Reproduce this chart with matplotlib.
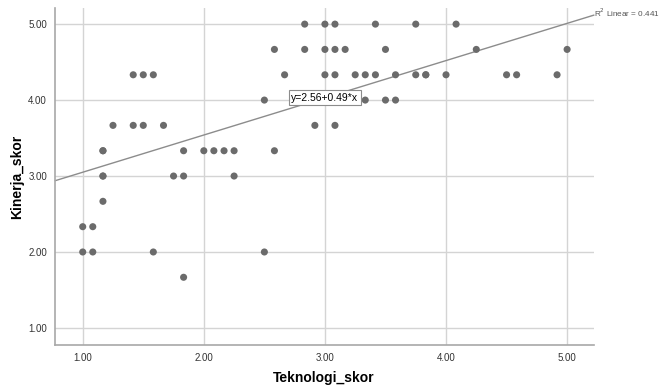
import matplotlib
matplotlib.use("Agg")
import numpy as np
import matplotlib.pyplot as plt

plt.rcParams["font.family"] = ["Liberation Sans", "DejaVu Sans"]

# Teknologi_skor vs Kinerja_skor, one list per Kinerja level
teknologi = [
    2.833, 3.0, 3.083, 3.417, 3.75, 4.083,
    2.583, 2.833, 3.0, 3.083, 3.167, 3.5, 4.25, 5.0,
    1.417, 1.5, 1.583, 2.667, 3.0, 3.083, 3.25, 3.333, 3.417, 3.583, 3.75, 3.833, 3.833, 4.0, 4.5, 4.583, 4.917,
    2.5, 3.333, 3.5, 3.583,
    1.25, 1.417, 1.5, 1.667, 2.917, 3.083,
    1.167, 1.167, 1.833, 2.0, 2.083, 2.167, 2.25, 2.583,
    1.167, 1.167, 1.75, 1.833, 2.25,
    1.167,
    1.0, 1.083,
    1.0, 1.083, 1.583, 2.5,
    1.833,
]
kinerja = (
    [5.0] * 6
    + [4.667] * 8
    + [4.333] * 17
    + [4.0] * 4
    + [3.667] * 6
    + [3.333] * 8
    + [3.0] * 5
    + [2.667] * 1
    + [2.333] * 2
    + [2.0] * 4
    + [1.667] * 1
)

intercept, slope = 2.56, 0.49
r2 = 0.441

fig = plt.figure(figsize=(6.59, 3.89), dpi=100)
ax = fig.add_axes([0.084, 0.114, 0.817, 0.865])

xmin, xmax = 0.774, 5.22
ymin, ymax = 0.78, 5.21
ax.set_xlim(xmin, xmax)
ax.set_ylim(ymin, ymax)

ticks = [1, 2, 3, 4, 5]
ax.set_xticks(ticks)
ax.set_yticks(ticks)
ax.set_xticklabels([f"{t:.2f}" for t in ticks], fontsize=7, color="#333333")
ax.set_yticklabels([f"{t:.2f}" for t in ticks], fontsize=7, color="#333333")
ax.tick_params(length=0, pad=6)

ax.grid(True, color="#d4d4d4", linewidth=1.0)
ax.set_axisbelow(True)
for side in ["top", "right"]:
    ax.spines[side].set_visible(False)
for side in ["left", "bottom"]:
    ax.spines[side].set_color("#a8a8a8")
    ax.spines[side].set_linewidth(1.2)

ax.scatter(teknologi, kinerja, s=26, color="#6b6b6b", edgecolors="none", zorder=3)

# fit line runs across the whole plot, ending at the R2 label on the right
xs = np.array([xmin, xmax])
ax.plot(xs, intercept + slope * xs, color="#8c8c8c", linewidth=1.0, zorder=2, clip_on=False)

ax.text(3.0, 4.03, f"y={intercept:.2f}+{slope:.2f}*x", fontsize=7.5, ha="center", va="center",
        zorder=4, bbox=dict(boxstyle="square,pad=0.25", facecolor="white", edgecolor="#8c8c8c", linewidth=0.8))
ax.text(xmax + 0.001, intercept + slope * xmax + 0.03, f"R$^2$ Linear = {r2:.3f}", fontsize=5.9,
        color="#555555", ha="left", va="center", clip_on=False)

ax.set_xlabel("Teknologi_skor", fontsize=10, fontweight="bold")
ax.set_ylabel("Kinerja_skor", fontsize=10, fontweight="bold")
ax.xaxis.set_label_coords(0.499, -0.078)
ax.yaxis.set_label_coords(-0.058, 0.5)

fig.savefig("out.png", dpi=100)
